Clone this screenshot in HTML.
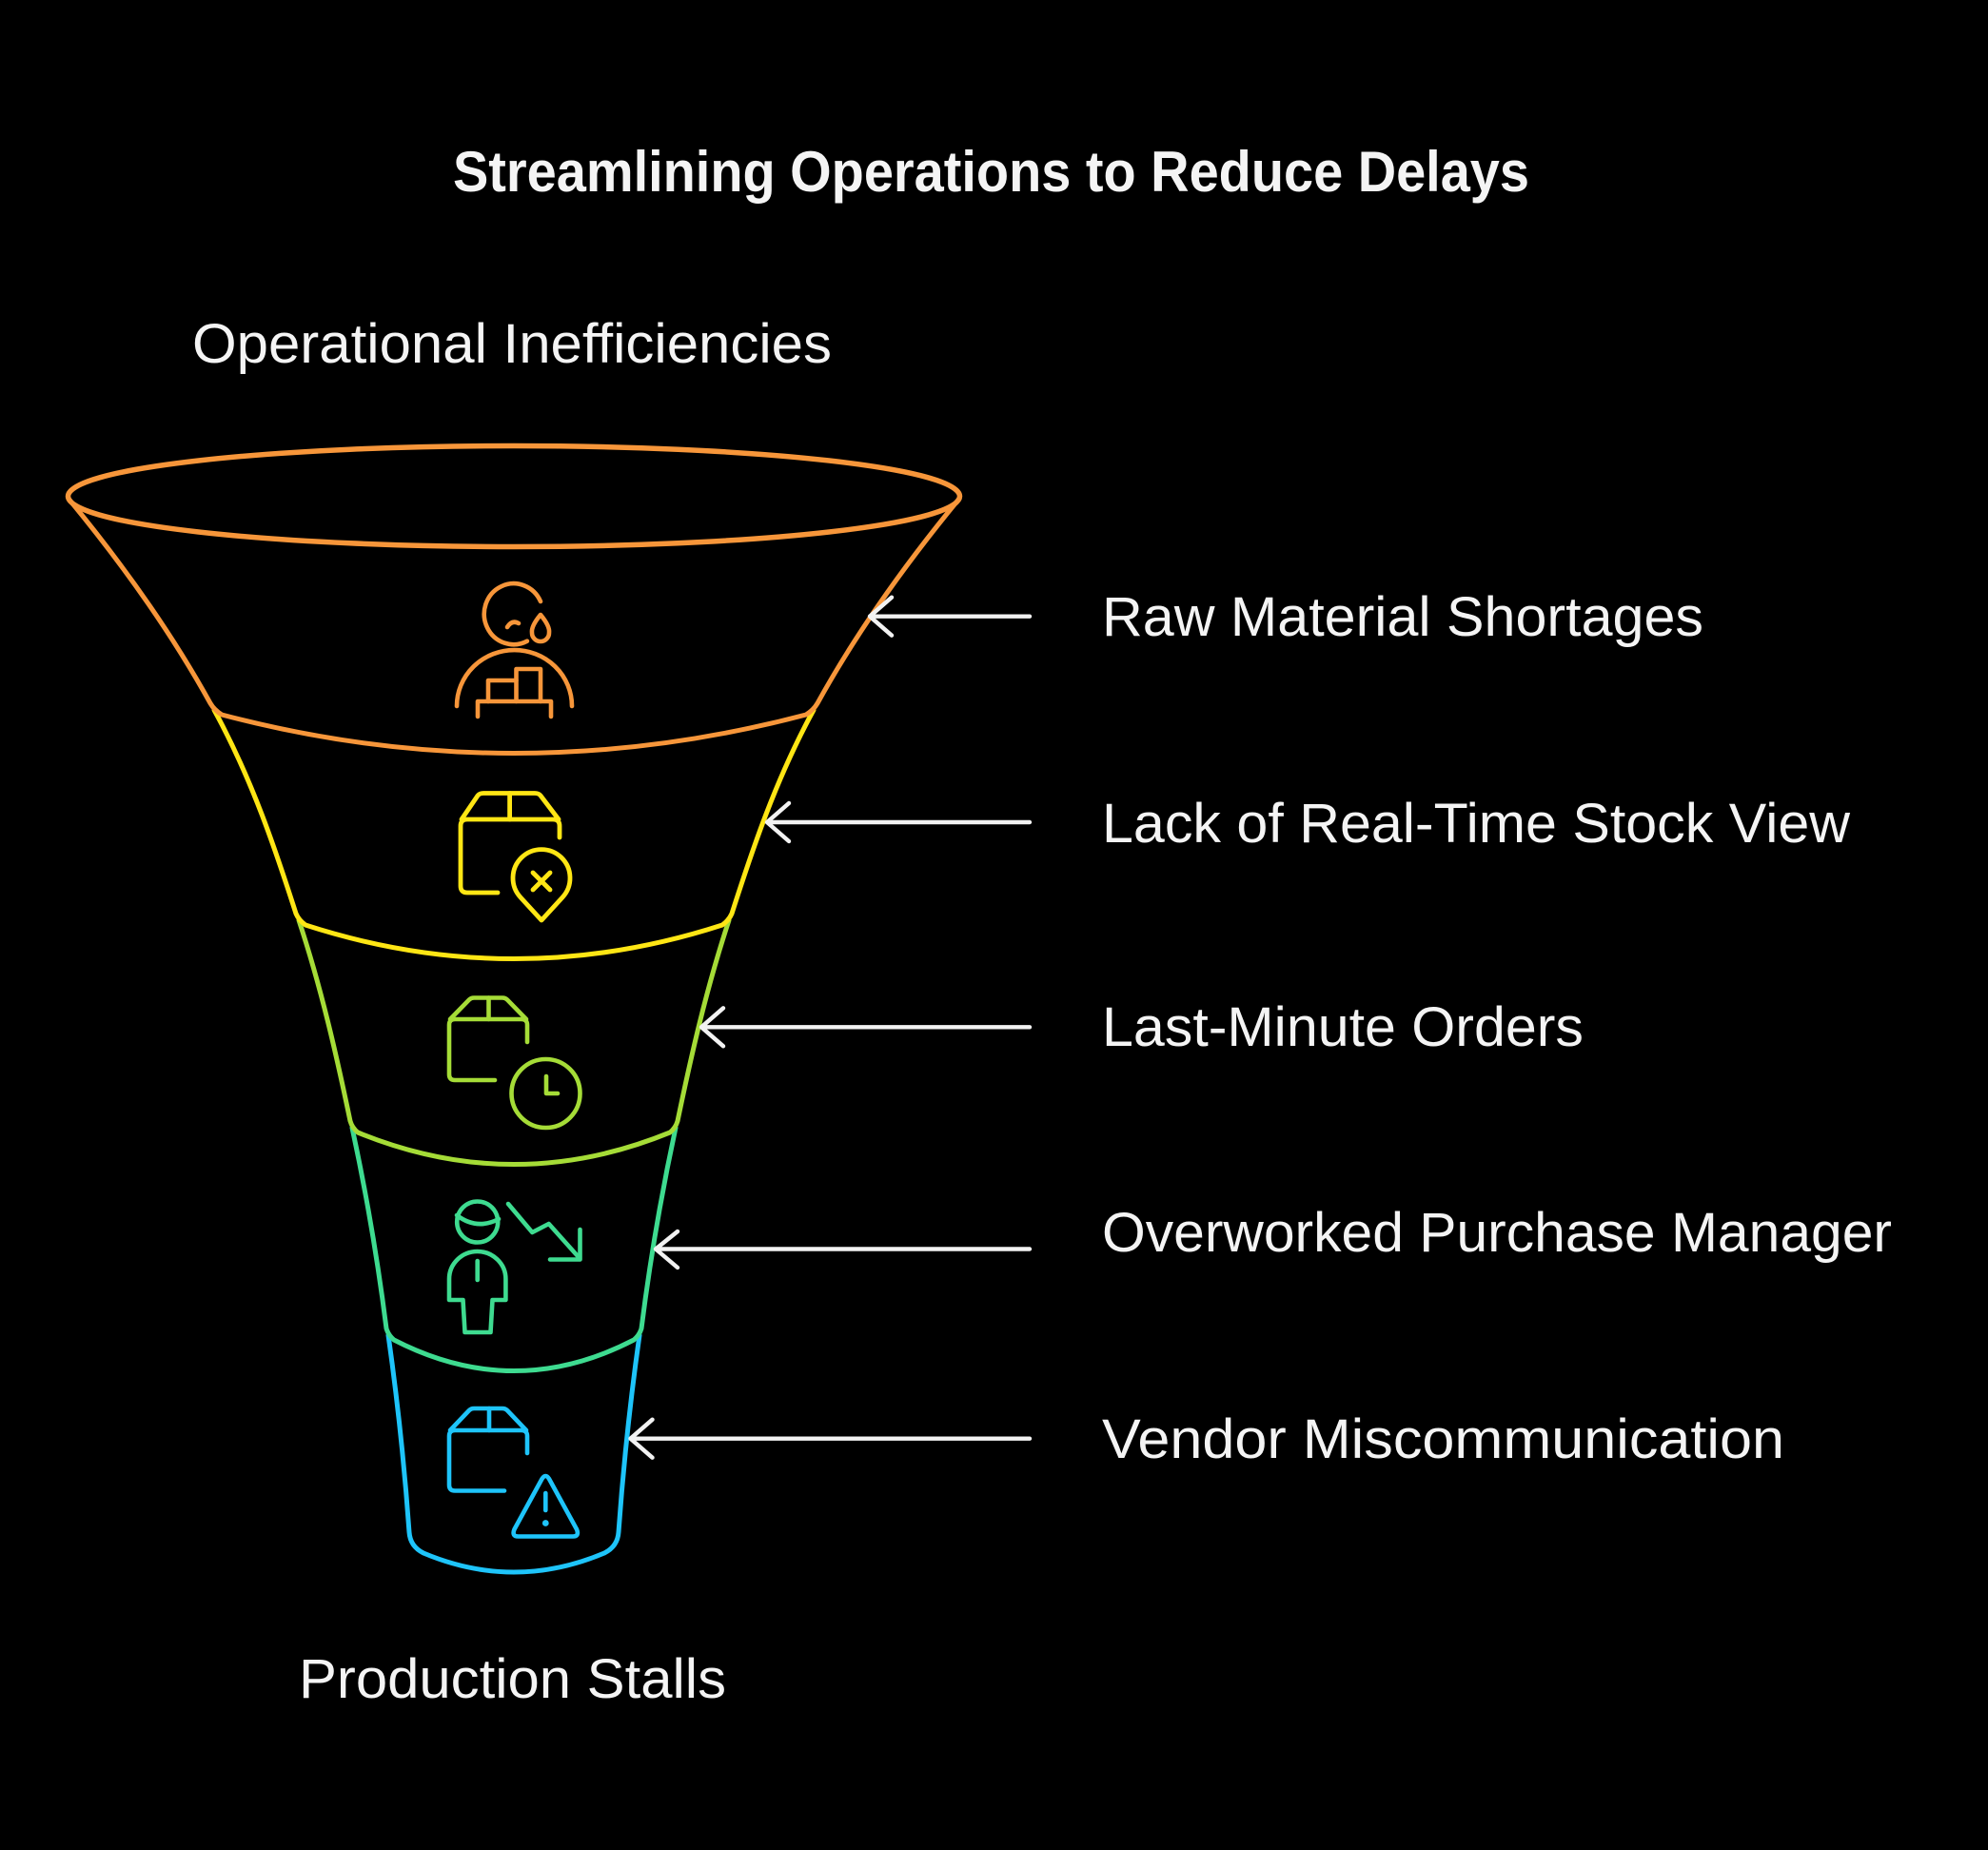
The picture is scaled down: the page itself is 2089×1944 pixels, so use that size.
<!DOCTYPE html>
<html>
<head>
<meta charset="utf-8">
<style>
  html,body{margin:0;padding:0;background:#000;}
  body{width:2089px;height:1944px;overflow:hidden;}
  svg{display:block;}
  text{font-family:"Liberation Sans",Arial,sans-serif;fill:#F4F4F4;}
</style>
</head>
<body>
<svg width="2089" height="1944" viewBox="0 0 2089 1944" xmlns="http://www.w3.org/2000/svg">
  <rect x="0" y="0" width="2089" height="1944" fill="#000"/>

  <!-- Title -->
  <text x="476" y="201" font-size="60" font-weight="bold" textLength="1131" lengthAdjust="spacingAndGlyphs">Streamlining Operations to Reduce Delays</text>

  <!-- Top / bottom labels -->
  <text x="202" y="381" font-size="58" textLength="672" lengthAdjust="spacingAndGlyphs">Operational Inefficiencies</text>
  <text x="314" y="1784" font-size="58" textLength="449" lengthAdjust="spacingAndGlyphs">Production Stalls</text>

  <!-- Funnel segments (bottom first) -->
  <g fill="none" stroke-width="5" stroke-linejoin="round" stroke-linecap="round">
    <path stroke="#1EC4FA" d="M408,1403 C418.3,1475.8 425,1540 430,1610 Q431,1625 445,1632 Q540,1672 635,1632 Q649,1625 650,1610 C655,1540 661.7,1475.8 672,1403"/>
    <path stroke="#3EDB90" d="M370,1185 C385.7,1257.7 397.7,1330.2 406,1396 Q408,1403 414,1408 Q540,1473 666,1408 Q672,1403 674,1396 C682.3,1330.2 694.3,1257.7 710,1185"/>
    <path stroke="#A5DC37" d="M314,967 C338.2,1040 354.3,1112.3 368,1178 Q370,1185 376,1190 Q540,1257 704,1190 Q710,1185 712,1178 C725.7,1112.3 741.8,1040 766,967"/>
    <path stroke="#FFE614" d="M225,746 C265.3,819.8 289.8,894 311,960 Q314,967 321,972 Q540,1043 759,972 Q766,967 769,960 C790.2,894 814.7,819.8 855,746"/>
    <path stroke="#F7963A" d="M72,524 C133.7,598.8 184.7,673.2 221,739 Q225,746 233,751 Q540,832 847,751 Q855,746 859,739 C895.3,673.2 946.3,598.8 1008,524"/>
    <ellipse cx="540" cy="521.5" rx="468.5" ry="53" stroke="#F7963A" stroke-width="5.5"/>
  </g>

  <!-- Icon 1: person with drop and bars (orange) -->
  <g fill="none" stroke="#F7963A" stroke-width="4.6" stroke-linecap="round" stroke-linejoin="round">
    <path d="M568,632 A31 32 0 1 0 553.9,673.7"/>
    <path d="M568,646 Q578,658 577,665 A9 9 0 1 1 559,665 Q558,658 568,646 Z"/>
    <path d="M533,659 Q538,651 545,655"/>
    <path d="M480,742 A60.5 59 0 0 1 601,742"/>
    <path d="M502,753 V737 H579 V753"/>
    <path d="M513,737 V715 H542.5 V737"/>
    <path d="M542.5,715 V703 H568 V737"/>
  </g>

  <!-- Icon 2: box with shield X (yellow) -->
  <g fill="none" stroke="#FFE614" stroke-width="4.8" stroke-linecap="round" stroke-linejoin="round">
    <path d="M523,938 H491 Q484,938 484,931 V868 Q484,861 491,861 H581 Q588,861 588,868 V880"/>
    <path d="M485,861 L502,836 Q504,833.5 508,833.5 H562 Q566,833.5 568,836 L587,861"/>
    <path d="M535.6,833.5 V861"/>
    <path d="M569,967 L547,943 A30 30 0 1 1 591,943 Z"/>
    <path d="M560,917 L578,935 M578,917 L560,935"/>
  </g>

  <!-- Icon 3: box with clock (lime) -->
  <g fill="none" stroke="#A5DC37" stroke-width="4.6" stroke-linecap="round" stroke-linejoin="round">
    <path d="M520,1135 H478 Q472,1135 472,1129 V1077 Q472,1071 478,1071 H548 Q554,1071 554,1077 V1095"/>
    <path d="M473,1071 L493,1050.5 Q495,1048.5 498,1048.5 H528 Q531,1048.5 533,1050.5 L553,1071"/>
    <path d="M513.5,1048.5 V1071"/>
    <circle cx="573.5" cy="1149" r="36"/>
    <path d="M574,1131 V1149 H586"/>
  </g>

  <!-- Icon 4: manager with downward trend (green) -->
  <g fill="none" stroke="#3EDB90" stroke-width="4.6" stroke-linecap="round" stroke-linejoin="round">
    <circle cx="501.7" cy="1284" r="21.5"/>
    <path d="M480,1277 Q501,1293 524,1281"/>
    <path d="M472,1366 V1344 A29.7 29 0 0 1 531.4,1344 V1366 H517.5 L515.5,1400 H488.5 L486.5,1366 Z"/>
    <path d="M501.7,1325 V1345"/>
    <path d="M534,1265 L559.3,1295 L576.7,1286 L608,1321"/>
    <path d="M609.5,1292 V1323.5 H578"/>
  </g>

  <!-- Icon 5: box with warning (blue) -->
  <g fill="none" stroke="#1EC4FA" stroke-width="4.6" stroke-linecap="round" stroke-linejoin="round">
    <path d="M530,1566.5 H478 Q472,1566.5 472,1560.5 V1509 Q472,1503 478,1503 H548 Q554,1503 554,1509 V1527"/>
    <path d="M473,1503 L493,1482 Q495,1480 498,1480 H528 Q531,1480 533,1482 L553,1503"/>
    <path d="M514,1480 V1503"/>
    <path d="M569.5,1554 Q573.3,1548 577,1554 L606,1607 Q609,1614.5 602,1614.5 H544.5 Q537.5,1614.5 540.5,1607 Z"/>
    <path d="M573.3,1569 V1587"/>
  </g>
  <circle cx="573.3" cy="1600.5" r="3.4" fill="#1EC4FA"/>

  <!-- Arrows -->
  <g fill="none" stroke="#F2F2F2" stroke-width="4.4" stroke-linecap="round" stroke-linejoin="round">
    <path d="M1082,647.7 H916 M937,627.7 L914,647.7 L937,667.7"/>
    <path d="M1082,864 H808 M829,844 L806,864 L829,884"/>
    <path d="M1082,1079.3 H739 M760,1059.3 L737,1079.3 L760,1099.3"/>
    <path d="M1082,1312.5 H691 M712,1294 L689,1312.5 L712,1332"/>
    <path d="M1082,1511.7 H664.5 M685.5,1491.7 L662.5,1511.7 L685.5,1531.7"/>
  </g>

  <!-- Right labels -->
  <text x="1158" y="668" font-size="58" textLength="632" lengthAdjust="spacingAndGlyphs">Raw Material Shortages</text>
  <text x="1158" y="885" font-size="58" textLength="786" lengthAdjust="spacingAndGlyphs">Lack of Real-Time Stock View</text>
  <text x="1158" y="1099" font-size="58" textLength="506" lengthAdjust="spacingAndGlyphs">Last-Minute Orders</text>
  <text x="1158" y="1315" font-size="58" textLength="830" lengthAdjust="spacingAndGlyphs">Overworked Purchase Manager</text>
  <text x="1158" y="1532" font-size="58" textLength="717" lengthAdjust="spacingAndGlyphs">Vendor Miscommunication</text>
</svg>
</body>
</html>
